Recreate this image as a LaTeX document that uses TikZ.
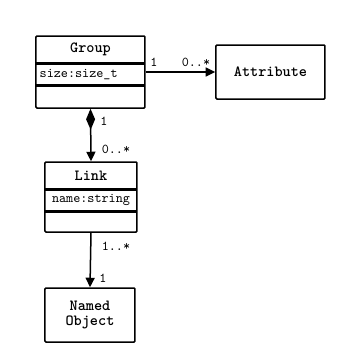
\documentclass[tikz,border=0pt]{standalone}
\usepackage{fontspec}
\setmonofont{lmmono10-regular.otf}[BoldFont=lmmonolt10-bold.otf]
\usetikzlibrary{arrows.meta}
\begin{document}
\begin{tikzpicture}[x=1pt,y=-1pt,
  umlbox/.style={draw,line width=1.5pt,rounded corners=1pt,inner sep=0pt},
  divider/.style={line width=3pt},
  conn/.style={line width=1.5pt},
  title/.style={font=\fontsize{15.5}{15}\selectfont\ttfamily\bfseries},
  attr/.style={font=\fontsize{13.5}{15}\selectfont\ttfamily},
  mult/.style={font=\fontsize{13.5}{15}\selectfont\ttfamily,inner sep=0pt}]
\useasboundingbox (0,0) rectangle (360,360);
\fill[white] (0,0) rectangle (360,360);
% Group
\node[umlbox,minimum width=109pt,minimum height=72pt] (group) at (90.5,72) {};
\coordinate (gd1l) at (36,63); \coordinate (gd1r) at (145,63);
\coordinate (gd2l) at (36,85.5); \coordinate (gd2r) at (145,85.5);
\draw[divider] (gd1l) -- (gd1r);
\draw[divider] (gd2l) -- (gd2r);
\node[title] (gtitle) at (90.5,49.5) {Group};
\node[attr,anchor=west,inner sep=0pt] (gattr) at (39.5,74.5) {size:size\_t};
% Attribute
\node[umlbox,minimum width=109pt,minimum height=54pt,title] (attribute) at (270.5,72) {Attribute};
% Link
\node[umlbox,minimum width=92pt,minimum height=70pt] (link) at (91,197) {};
\coordinate (ld1l) at (45,189); \coordinate (ld1r) at (137,189);
\coordinate (ld2l) at (45,211); \coordinate (ld2r) at (137,211);
\draw[divider] (ld1l) -- (ld1r);
\draw[divider] (ld2l) -- (ld2r);
\node[title] (ltitle) at (91,176) {Link};
\node[attr] (lattr) at (91,200) {name:string};
% Named Object
\node[umlbox,minimum width=90pt,minimum height=54pt,title,align=center] (named) at (90,315) {Named\\Object};
% connectors
\draw[conn,-{Triangle[length=9.5pt,width=9pt]}] (group.east) -- (attribute.west);
\draw[conn,{Diamond[length=21pt,width=9pt]}-{Triangle[length=9.5pt,width=9pt]}] (group.south) -- (link.north);
\draw[conn,-{Triangle[length=9.5pt,width=9pt]}] (link.south) -- (named.north);
% multiplicities
\node[mult] (m1) at (154,62) {1};
\node[mult] (m2) at (196,62) {0..*};
\node[mult] (m3) at (104,121) {1};
\node[mult] (m4) at (116,149) {0..*};
\node[mult] (m5) at (116,246) {1..*};
\node[mult] (m6) at (103,278) {1};
\end{tikzpicture}
\end{document}
